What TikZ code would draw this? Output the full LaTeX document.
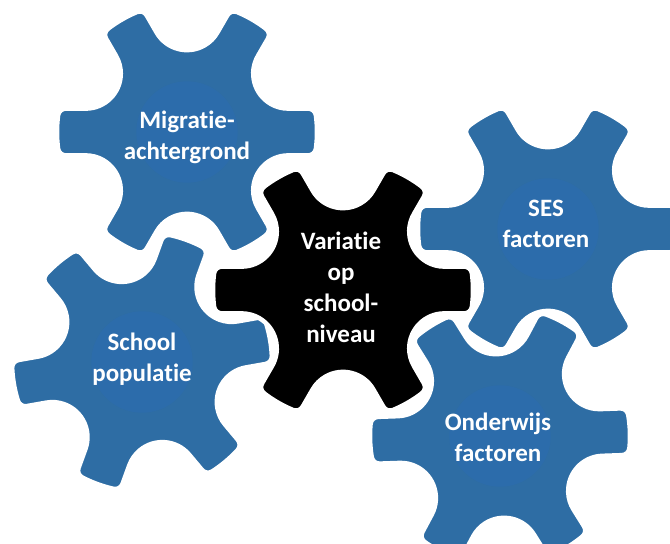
\documentclass[tikz,border=0pt]{standalone}
\usepackage{fontspec}
\setmainfont[Ligatures=NoCommon]{Carlito}
\definecolor{gearblue}{HTML}{2E6DA4}
\definecolor{hubblue}{HTML}{2C6CAB}
\pgfmathsetmacro\gh{0.18}
\pgfmathsetmacro\gf{0.06}
\pgfmathsetmacro\grc{0.9}
\pgfmathsetmacro\grho{\grc/2-\gh}
\pgfmathsetmacro\gxf{sqrt((1-\gf)^2-(\gh-\gf)^2)}
\pgfmathsetmacro\gtau{atan2(\gh-\gf,\gxf)}
\pgfmathsetmacro\gsig{atan2(\gh,\gxf)}
\pgfmathsetmacro\grs{sqrt(\gxf^2+\gh^2)}
\pgfmathsetmacro\gmu{atan2(\gh,\grc*cos(30))}
\pgfmathsetmacro\grt{sqrt(0.75*\grc^2+\gh^2)}
\tikzset{
  gearedge/.style={draw=white, line width=4.5pt, line join=round},
  geartext/.style={text=white, font=\fontsize{25}{31}\selectfont\bfseries, align=center, inner sep=0pt},
}
\newcommand{\drawgear}[4]{%
  \begin{scope}[shift={#1}, rotate=#2, scale=130]
    \filldraw[fill=#3, gearedge] ({-\gtau}:1)
      \foreach \k in {0,...,5}{
        arc[start angle={60*\k-\gtau}, end angle={60*\k+\gtau}, radius=1]
        arc[start angle={60*\k+\gtau}, end angle={60*\k+90}, radius=\gf]
        -- ({60*\k+\gmu}:\grt)
        arc[start angle={60*\k-90}, end angle={60*\k-210}, radius=\grho]
        -- ({60*\k+60-\gsig}:\grs)
        arc[start angle={60*\k-30}, end angle={60*\k+60-\gtau}, radius=\gf]
      } -- cycle;
    \fill[#4] (0,0) circle (0.39);
  \end{scope}}
\begin{document}
\begin{tikzpicture}[x=1pt, y=-1pt]
  \clip (0,0) rectangle (670,544);
  \fill[white] (0,0) rectangle (670,544);
  \drawgear{(187,132)}{0}{gearblue}{hubblue}
  \drawgear{(142,362)}{10}{gearblue}{hubblue}
  \drawgear{(548,229)}{0}{gearblue}{hubblue}
  \drawgear{(500,436)}{2}{gearblue}{hubblue}
  \drawgear{(343,290)}{0}{black}{black}
  \node[geartext] (mig) at (187,137) {Migratie-\\achtergrond};
  \node[geartext] (var) at (341,287) {Variatie\\op\\school-\\niveau};
  \node[geartext] (ses) at (546,224) {SES\\factoren};
  \node[geartext] (sch) at (142,359) {School\\populatie};
  \node[geartext] (ond) at (498,437) {Onderwijs\\factoren};
\end{tikzpicture}
\end{document}
